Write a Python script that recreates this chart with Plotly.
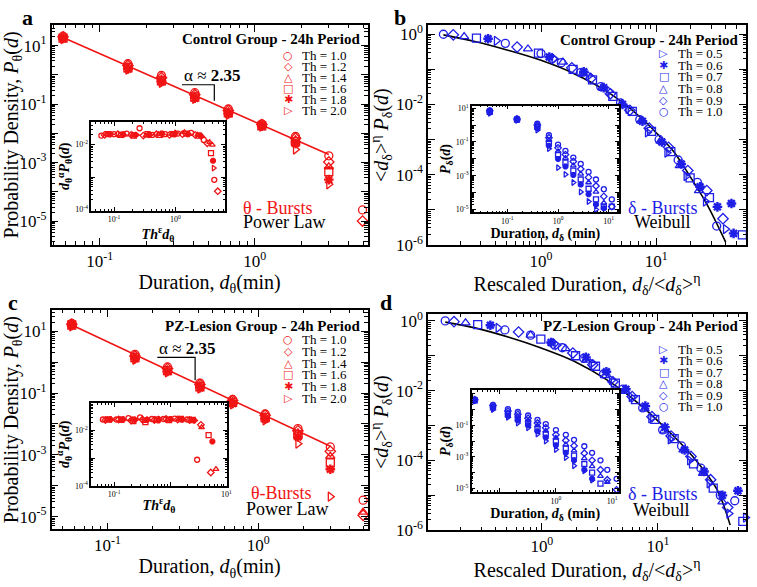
import plotly.graph_objects as go

W, H = 757, 587
FONT = "Liberation Serif, Times New Roman, serif"
RED = "#f01414"
BLUE = "#1e1ee6"

# ---------------- data ----------------
# panel a / c : theta bursts, probability density vs duration (min)
theta_bins = [0.058, 0.152, 0.25, 0.41, 0.675, 1.11, 1.83, 3.0, 4.95]
theta_labels = ["1.0", "1.2", "1.4", "1.6", "1.8", "2.0"]

a_th10 = [21, 2.4, 0.95, 0.245, 0.068, 0.021, 0.0078, 0.0017, 2.4e-5]
a_th12 = [20, 2.1, 0.8, 0.21, 0.06, 0.02, 0.0068, 0.00105, 1.0e-5]
a_th14 = [19, 1.9, 0.7, 0.19, 0.055, 0.019, 0.006, 0.00072, None]
a_th16 = [18, 1.75, 0.63, 0.175, 0.05, 0.018, 0.0052, 0.00049, None]
a_th18 = [17.5, 1.6, 0.58, 0.16, 0.047, 0.0175, 0.0045, 0.00026, None]
a_th20 = [16.7, 1.5, 0.53, 0.15, 0.043, 0.017, 0.0028, 0.00018, None]
a_fit_x = [0.058, 3.0]
a_fit_y = [19, 0.0019]
a_bracket_x = [0.339, 0.548, 0.548]
a_bracket_y = [0.46, 0.46, 0.13]

c_th10 = [18, 1.8, 0.7, 0.21, 0.062, 0.021, 0.0071, 0.0018, 3.4e-5]
c_th12 = [17, 1.6, 0.62, 0.19, 0.057, 0.019, 0.006, 0.0013, 1.1e-5]
c_th14 = [16.5, 1.5, 0.57, 0.175, 0.053, 0.017, 0.0052, 0.0009, 1.4e-5]
c_th16 = [16, 1.4, 0.53, 0.16, 0.05, 0.016, 0.0045, 0.00055, None]
c_th18 = [15.5, 1.3, 0.5, 0.15, 0.046, 0.0145, 0.0038, 0.00034, None]
c_th20 = [14.5, 1.2, 0.47, 0.14, 0.043, 0.013, 0.0023, 4.4e-5, None]
c_fit_x = [0.058, 3.0]
c_fit_y = [16, 0.0019]
c_bracket_x = [0.214, 0.381, 0.381]
c_bracket_y = [1.44, 1.44, 0.26]

# insets a / c : Th^eps d  vs  d^alpha P(d)
ia_th10_x = [0.062, 0.1, 0.16, 0.26, 0.42, 0.68, 1.1, 1.8, 2.9, 4.3]
ia_th10_y = [0.019, 0.021, 0.022, 0.032, 0.02, 0.021, 0.022, 0.023, 0.014, 8.3e-4]
ia_th12_x = [0.07, 0.115, 0.19, 0.3, 0.49, 0.8, 1.3, 2.1, 3.3, 4.9]
ia_th12_y = [0.02, 0.021, 0.02, 0.019, 0.021, 0.02, 0.021, 0.02, 0.011, 3.7e-4]
ia_th14_x = [0.075, 0.125, 0.2, 0.33, 0.53, 0.86, 1.4, 2.3, 3.6, 4.0]
ia_th14_y = [0.021, 0.02, 0.02, 0.019, 0.021, 0.021, 0.024, 0.02, 0.012, 0.0098]
ia_th16_x = [0.08, 0.13, 0.21, 0.35, 0.56, 0.92, 1.5, 2.4, 3.8]
ia_th16_y = [0.021, 0.02, 0.019, 0.021, 0.02, 0.021, 0.022, 0.019, 0.0055]
ia_th18_x = [0.085, 0.14, 0.22, 0.37, 0.6, 0.97, 1.6, 2.55, 4.1]
ia_th18_y = [0.021, 0.021, 0.02, 0.02, 0.022, 0.021, 0.021, 0.019, 0.0032]
ia_th20_x = [0.09, 0.145, 0.235, 0.39, 0.62, 1.02, 1.65, 2.7, 4.2]
ia_th20_y = [0.021, 0.02, 0.02, 0.02, 0.021, 0.023, 0.021, 0.018, 0.0019]

ic_th10_x = [0.063, 0.11, 0.18, 0.29, 0.47, 0.76, 1.2, 2.0, 3.0]
ic_th10_y = [0.025, 0.025, 0.028, 0.03, 0.026, 0.026, 0.027, 0.025, 8.7e-4]
ic_th12_x = [0.07, 0.12, 0.2, 0.32, 0.52, 0.84, 1.35, 2.2, 3.5, 5.25]
ic_th12_y = [0.024, 0.025, 0.023, 0.025, 0.024, 0.026, 0.025, 0.024, 0.016, 3e-4]
ic_th14_x = [0.075, 0.13, 0.21, 0.34, 0.55, 0.9, 1.45, 2.35, 3.6, 6.5]
ic_th14_y = [0.025, 0.024, 0.025, 0.022, 0.024, 0.025, 0.026, 0.025, 0.013, 4e-4]
ic_th16_x = [0.08, 0.135, 0.22, 0.36, 0.58, 0.95, 1.55, 2.5, 4.8]
ic_th16_y = [0.025, 0.025, 0.022, 0.02, 0.025, 0.024, 0.026, 0.024, 6.8e-3]
ic_th18_x = [0.085, 0.14, 0.23, 0.38, 0.61, 1.0, 1.6, 2.6, 5.6]
ic_th18_y = [0.025, 0.024, 0.025, 0.024, 0.023, 0.026, 0.025, 0.024, 4e-3]
ic_th20_x = [0.09, 0.15, 0.24, 0.4, 0.64, 1.05, 1.7, 2.75]
ic_th20_y = [0.025, 0.025, 0.024, 0.025, 0.026, 0.025, 0.025, 0.023]

# panel b / d : delta bursts, rescaled distributions + Weibull
delta_labels = ["0.5", "0.6", "0.7", "0.8", "0.9", "1.0"]

b_th05_x = [0.41, 1.3, 2.6, 3.9, 5.7, 8.4, 12.4, 18.2, 26.8, 40]
b_th05_y = [0.65, 0.2, 0.065, 0.024, 0.0075, 0.0016, 4.2e-4, 9e-5, 1.7e-5, 2.8e-6]
b_th06_x = [0.347, 1.18, 2.35, 3.5, 5.1, 7.6, 11.2, 16.5, 24, 34, 45, 47]
b_th06_y = [0.74, 0.225, 0.085, 0.03, 0.01, 0.0033, 8.5e-4, 2.0e-4, 4.5e-5, 1.2e-5, 1.5e-5, 2.1e-6]
b_th07_x = [0.275, 0.95, 1.9, 2.8, 4.2, 6.2, 9.1, 13.4, 19.7, 29, 56]
b_th07_y = [0.77, 0.29, 0.1, 0.05, 0.017, 0.0063, 0.0017, 4.5e-4, 8e-5, 2.2e-5, 1.9e-6]
b_th08_x = [0.215, 0.77, 1.55, 2.3, 3.4, 5.0, 7.4, 10.9, 16, 23.5]
b_th08_y = [0.86, 0.38, 0.16, 0.075, 0.03, 0.0105, 0.0034, 9e-4, 1.8e-4, 3.5e-5]
b_th09_x = [0.173, 0.62, 1.25, 1.85, 2.7, 4.0, 5.9, 8.7, 12.8, 18.8, 27.5, 38]
b_th09_y = [0.96, 0.43, 0.2, 0.11, 0.055, 0.02, 0.0068, 0.0021, 6e-4, 1.3e-4, 3.5e-5, 5.5e-6]
b_th10_x = [0.142, 0.49, 1.0, 1.5, 2.2, 3.3, 4.9, 7.2, 10.6, 15.5, 22.8, 33.5]
b_th10_y = [1.0, 0.55, 0.28, 0.155, 0.08, 0.032, 0.011, 0.0037, 1.0e-3, 2.6e-4, 6e-5, 3.4e-6]
b_weibull_x = [0.142, 0.266, 0.515, 1.0, 1.94, 3.75, 7.3, 10.1, 14.1, 19.6, 27.3, 40]
b_weibull_y = [0.96, 0.62, 0.35, 0.18, 0.075, 0.023, 0.0043, 0.0015, 4.6e-4, 9e-5, 1.5e-5, 1.2e-6]

d_th05_x = [0.42, 1.35, 2.7, 4.0, 5.9, 8.7, 12.8, 18.8, 27.7, 41, 57]
d_th05_y = [0.63, 0.2, 0.06, 0.02, 0.0065, 0.0016, 4e-4, 1e-4, 2.2e-5, 3e-6, 2.3e-6]
d_th06_x = [0.36, 1.2, 2.4, 3.6, 5.3, 7.8, 11.5, 17, 25, 36, 49]
d_th06_y = [0.75, 0.24, 0.09, 0.035, 0.011, 0.0036, 9e-4, 2e-4, 4.8e-5, 1e-5, 1.35e-5]
d_th07_x = [0.28, 0.98, 1.95, 2.9, 4.3, 6.4, 9.4, 13.8, 20.3, 30, 54]
d_th07_y = [0.78, 0.3, 0.1, 0.05, 0.0165, 0.0055, 0.0015, 4.2e-4, 8e-5, 1.6e-5, 1.8e-6]
d_th08_x = [0.22, 0.8, 1.6, 2.4, 3.5, 5.2, 7.7, 11.3, 16.6, 24.5, 36]
d_th08_y = [0.88, 0.39, 0.16, 0.075, 0.027, 0.0095, 0.003, 7e-4, 2e-4, 4.3e-5, 6.5e-6]
d_th09_x = [0.175, 0.63, 1.25, 1.85, 2.75, 4.1, 6.0, 8.9, 13, 19.3, 28.5, 40]
d_th09_y = [0.95, 0.48, 0.22, 0.12, 0.055, 0.018, 0.0068, 0.0018, 5e-4, 1.3e-4, 2.8e-5, 4.5e-6]
d_th10_x = [0.147, 0.48, 0.8, 1.5, 2.3, 3.4, 5.0, 7.4, 11, 16, 23.5, 34.5, 46]
d_th10_y = [1.0, 0.55, 0.39, 0.17, 0.085, 0.03, 0.011, 0.0032, 7.5e-4, 2.6e-4, 6e-5, 1e-5, 7e-6]
d_weibull_x = [0.147, 0.27, 0.52, 1.0, 1.9, 3.67, 7.0, 13.5, 20, 26, 33, 42]
d_weibull_y = [0.92, 0.62, 0.34, 0.165, 0.07, 0.02, 0.004, 5.2e-4, 1.3e-4, 4.3e-5, 1.3e-5, 1.4e-6]

# insets b / d : raw P(d) vs duration (min)
ib_grid = [0.045, 0.155, 0.39, 0.66, 1.0, 1.4, 2.0, 2.8, 4.0, 5.6, 8.0, 11.5]
ib_th05 = [5, 1.9, 0.5, 0.04, 0.003, 0.0012, 4e-4, 1.1e-4, 3e-5, 1e-5]
ib_th06 = [5.5, 2.0, 0.65, 0.06, 0.01, 0.0035, 0.0011, 3e-4, 8e-5, 2e-5, 1.2e-5]
ib_th07 = [6, 2.1, 0.8, 0.09, 0.018, 0.006, 0.002, 6e-4, 1.7e-4, 4e-5, 1.5e-5, 1.5e-5]
ib_th08 = [6.5, 2.2, 0.9, 0.13, 0.028, 0.011, 0.004, 0.0013, 4e-4, 1.1e-4, 2.5e-5]
ib_th09 = [7, 2.3, 1.0, 0.18, 0.045, 0.018, 0.007, 0.0025, 8e-4, 2.5e-4, 6e-5, 1.5e-5]
ib_th10 = [7.5, 2.4, 1.2, 0.25, 0.07, 0.03, 0.012, 0.005, 0.0017, 6e-4, 1.6e-4, 4e-5]

id_grid = [0.036, 0.076, 0.14, 0.21, 0.32, 0.47, 0.66, 1.0, 1.5, 2.1, 3.2, 4.4, 6.2, 8.2, 12]
id_th05 = [3.4, 1.0, 0.32, 0.14, 0.07, 0.028, 0.01, 0.0029, 9e-4, 2.7e-4, 1.3e-4, 3.3e-5]
id_th06 = [3.6, 1.2, 0.4, 0.2, 0.1, 0.042, 0.017, 0.0055, 0.0018, 6e-4, 1.5e-4, 4e-5]
id_th07 = [3.8, 1.4, 0.5, 0.28, 0.14, 0.06, 0.028, 0.0095, 0.0033, 0.0012, 3.5e-4, 1e-4, 2e-5]
id_th08 = [4.0, 1.6, 0.65, 0.38, 0.2, 0.095, 0.045, 0.016, 0.006, 0.0025, 8e-4, 2.5e-4, 6e-5, 2.5e-5]
id_th09 = [4.2, 1.8, 0.8, 0.5, 0.28, 0.14, 0.07, 0.025, 0.011, 0.005, 0.0017, 6e-4, 1.5e-4, 3.5e-5, 8e-6]
id_th10 = [4.4, 2.0, 1.07, 0.7, 0.42, 0.22, 0.12, 0.05, 0.025, 0.012, 0.0047, 0.0018, 6e-4, 1.5e-4, 4e-5]

# ---------------- styling ----------------
theta_symbols = ["circle-open", "diamond-open", "triangle-up-open",
                 "square-open", "asterisk-open", "triangle-right-open"]
theta_glyphs = ["○", "◇", "△", "□", "✱", "▷"]
delta_symbols = ["triangle-right-open", "asterisk-open", "square-open",
                 "triangle-up-open", "diamond-open", "circle-open"]
delta_glyphs = ["▷", "✱", "□", "△", "◇", "○"]


def px_x(px):
    return px / W


def px_y(py):
    return 1 - py / H


def sup(e):
    return f"10<sup>{e}</sup>"


def minor_vals(lo, hi):
    return [m * 10.0 ** k for k in range(lo, hi) for m in range(2, 10)]


def log_axis(domain, anchor, rng, majors, labels, tsize, mlen, title, title_size, standoff=2):
    lo, hi = int(rng[0]) - 1, int(rng[1]) + 1
    return dict(
        type="log", domain=domain, anchor=anchor, range=rng,
        tickmode="array", tickvals=[10.0 ** e for e in majors], ticktext=labels,
        ticks="inside", ticklen=mlen, tickwidth=1, tickcolor="black",
        minor=dict(tickmode="array", tickvals=minor_vals(lo, hi), ticks="inside",
                   ticklen=mlen * 0.5, tickwidth=1, tickcolor="black", showgrid=False),
        showline=True, linecolor="black", linewidth=1.5, mirror="ticks",
        showgrid=False, zeroline=False,
        tickfont=dict(family=FONT, size=tsize, color="black"),
        title=dict(text=title, font=dict(family=FONT, size=title_size, color="black"),
                   standoff=standoff),
    )


def dom_x(l, r):
    return [px_x(l), px_x(r)]


def dom_y(t, b):
    return [px_y(b), px_y(t)]


fig = go.Figure()


def add_series(xs, ys, symbol, color, xa, ya, size):
    wide = "asterisk" in symbol
    fig.add_trace(go.Scatter(
        x=xs, y=ys, mode="markers", xaxis=xa, yaxis=ya, cliponaxis=False,
        marker=dict(symbol=symbol, size=size, color=color,
                    line=dict(color=color, width=2.4 if wide else 1.3)),
        hoverinfo="x+y", showlegend=False,
    ))


def add_line(xs, ys, color, xa, ya, width=1.6, shape="linear"):
    fig.add_trace(go.Scatter(
        x=xs, y=ys, mode="lines", xaxis=xa, yaxis=ya,
        line=dict(color=color, width=width, shape=shape, smoothing=1.0),
        hoverinfo="skip", showlegend=False,
    ))


# panel a
add_line(a_fit_x, a_fit_y, RED, "x", "y")
add_line(a_bracket_x, a_bracket_y, "black", "x", "y", width=1.2)
for ys, sym in zip([a_th10, a_th12, a_th14, a_th16, a_th18, a_th20], theta_symbols):
    add_series(theta_bins, ys, sym, RED, "x", "y", 8)
for xs, ys, sym in zip([ia_th10_x, ia_th12_x, ia_th14_x, ia_th16_x, ia_th18_x, ia_th20_x],
                       [ia_th10_y, ia_th12_y, ia_th14_y, ia_th16_y, ia_th18_y, ia_th20_y],
                       theta_symbols):
    add_series(xs, ys, sym, RED, "x2", "y2", 5)

# panel b
add_line(b_weibull_x, b_weibull_y, "black", "x3", "y3", shape="spline")
for xs, ys, sym in zip([b_th05_x, b_th06_x, b_th07_x, b_th08_x, b_th09_x, b_th10_x],
                       [b_th05_y, b_th06_y, b_th07_y, b_th08_y, b_th09_y, b_th10_y],
                       delta_symbols):
    add_series(xs, ys, sym, BLUE, "x3", "y3", 8)
for ys, sym in zip([ib_th05, ib_th06, ib_th07, ib_th08, ib_th09, ib_th10], delta_symbols):
    add_series(ib_grid[:len(ys)], ys, sym, BLUE, "x4", "y4", 5)

# panel c
add_line(c_fit_x, c_fit_y, RED, "x5", "y5")
add_line(c_bracket_x, c_bracket_y, "black", "x5", "y5", width=1.2)
for ys, sym in zip([c_th10, c_th12, c_th14, c_th16, c_th18, c_th20], theta_symbols):
    add_series(theta_bins, ys, sym, RED, "x5", "y5", 8)
for xs, ys, sym in zip([ic_th10_x, ic_th12_x, ic_th14_x, ic_th16_x, ic_th18_x, ic_th20_x],
                       [ic_th10_y, ic_th12_y, ic_th14_y, ic_th16_y, ic_th18_y, ic_th20_y],
                       theta_symbols):
    add_series(xs, ys, sym, RED, "x6", "y6", 5)

# panel d
add_line(d_weibull_x, d_weibull_y, "black", "x7", "y7", shape="spline")
for xs, ys, sym in zip([d_th05_x, d_th06_x, d_th07_x, d_th08_x, d_th09_x, d_th10_x],
                       [d_th05_y, d_th06_y, d_th07_y, d_th08_y, d_th09_y, d_th10_y],
                       delta_symbols):
    add_series(xs, ys, sym, BLUE, "x7", "y7", 8)
for ys, sym in zip([id_th05, id_th06, id_th07, id_th08, id_th09, id_th10], delta_symbols):
    add_series(id_grid[:len(ys)], ys, sym, BLUE, "x8", "y8", 5)

# ---------------- axes ----------------
p_theta = "Probability Density, <i>P</i><sub>θ</sub>(<i>d</i>)"
d_theta = "Duration, <i>d</i><sub>θ</sub>(min)"
p_delta = "&lt;<i>d</i><sub>δ</sub>&gt;<sup>η</sup> <i>P</i><sub>δ</sub>(<i>d</i>)"
d_delta = "Rescaled Duration, <i>d</i><sub>δ</sub>/&lt;<i>d</i><sub>δ</sub>&gt;<sup>η</sup>"
ins_y_theta = "<b><i>d</i><sub>θ</sub><sup>α</sup><i>P</i><sub>θ</sub>(<i>d</i>)</b>"
ins_x_theta = "<b><i>Th</i><sup>ε</sup><i>d</i><sub>θ</sub></b>"
ins_y_delta = "<b><i>P</i><sub>δ</sub>(<i>d</i>)</b>"
ins_x_delta = "<b>Duration, <i>d</i><sub>δ</sub> (min)</b>"

theta_y_major = [-5, -4, -3, -2, -1, 0, 1]
theta_y_text = [sup(-5), "", sup(-3), "", sup(-1), "", sup(1)]
delta_y_major = [-6, -5, -4, -3, -2, -1, 0]
delta_y_text = [sup(-6), "", sup(-4), "", sup(-2), "", sup(0)]

layout_axes = dict(
    xaxis=log_axis(dom_x(52, 370), "y", [-1.31, 0.727], [-1, 0], [sup(-1), sup(0)], 17, 7, d_theta, 20, 0),
    yaxis=log_axis(dom_y(20.7, 246), "x", [-5.81, 1.7], theta_y_major, theta_y_text, 17, 7, p_theta, 20),
    xaxis2=log_axis(dom_x(92, 226), "y2", [-1.37, 0.8], [-1, 0], [sup(-1), sup(0)], 8, 4, ins_x_theta, 14),
    yaxis2=log_axis(dom_y(120, 211), "x2", [-4.03, -1.3], [-4, -3, -2], [sup(-4), "", sup(-2)], 8, 4, ins_y_theta, 14),
    xaxis3=log_axis(dom_x(431, 751), "y3", [-0.98, 1.78], [0, 1], [sup(0), sup(1)], 17, 7, d_delta, 20, 0),
    yaxis3=log_axis(dom_y(21, 246), "x3", [-6, 0.25], delta_y_major, delta_y_text, 17, 7, p_delta, 20),
    xaxis4=log_axis(dom_x(475, 623), "y4", [-1.7, 1.2], [-1, 0, 1], [sup(-1), sup(0), sup(1)], 8, 4, ins_x_delta, 14),
    yaxis4=log_axis(dom_y(103.3, 212.7), "x4", [-5.16, 1.15], [-5, -4, -3, -2, -1, 0, 1],
                    [sup(-5), "", sup(-3), "", sup(-1), "", sup(1)], 8, 4, ins_y_delta, 14),
    xaxis5=log_axis(dom_x(52, 370), "y5", [-1.37, 0.724], [-1, 0], [sup(-1), sup(0)], 17, 7, d_theta, 20, 0),
    yaxis5=log_axis(dom_y(313, 538), "x5", [-5.41, 1.69], theta_y_major, theta_y_text, 17, 7, p_theta, 20),
    xaxis6=log_axis(dom_x(91.7, 228.3), "y6", [-1.41, 1.005], [-1, 0, 1], [sup(-1), "", sup(1)], 8, 4, ins_x_theta, 14),
    yaxis6=log_axis(dom_y(408.3, 493.3), "x6", [-4.0, -1.0], [-4, -3, -2], [sup(-4), "", sup(-2)], 8, 4, ins_y_theta, 14),
    xaxis7=log_axis(dom_x(431, 751), "y7", [-0.98, 1.76], [0, 1], [sup(0), sup(1)], 17, 7, d_delta, 20, 0),
    yaxis7=log_axis(dom_y(317, 539), "x7", [-6, 0.2], delta_y_major, delta_y_text, 17, 7, p_delta, 20),
    xaxis8=log_axis(dom_x(474.7, 623), "y8", [-1.5, 1.12], [-1, 0, 1], ["", sup(0), sup(1)], 8, 4, ins_x_delta, 14),
    yaxis8=log_axis(dom_y(395, 500), "x8", [-5.25, 1.25], [-5, -4, -3, -2, -1, 0, 1],
                    [sup(-5), "", sup(-3), "", sup(-1), "", ""], 8, 4, ins_y_delta, 14),
)

# ---------------- text ----------------
ann = []


def text(px, py, s, size, color="black", xanchor="left"):
    ann.append(dict(x=px_x(px), y=px_y(py), xref="paper", yref="paper", text=s,
                    showarrow=False, xanchor=xanchor, yanchor="middle",
                    font=dict(family=FONT, size=size, color=color)))


for letter, (lx, ly) in zip("abcd", [(28, 13), (403, 13), (13, 305), (389, 305)]):
    text(lx, ly, f"<b>{letter}</b>", 22, xanchor="center")

text(364, 35, "<b>Control Group - 24h Period</b>", 15, xanchor="right")
text(745, 36, "<b>Control Group - 24h Period</b>", 15, xanchor="right")
text(364, 329, "<b>PZ-Lesion Group - 24h Period</b>", 15, xanchor="right")
text(745, 329, "<b>PZ-Lesion Group - 24h Period</b>", 15, xanchor="right")

# legends: glyph + label rows
legend_rows = [
    (290, 302, 52, 11.3, theta_glyphs, theta_labels, RED),
    (668, 680, 50, 11.9, delta_glyphs, delta_labels, BLUE),
    (290, 302, 343.5, 12.0, theta_glyphs, theta_labels, RED),
    (668, 680, 353.5, 11.7, delta_glyphs, delta_labels, BLUE),
]
for gx, tx, y0, step, glyphs, labels, col in legend_rows:
    for i, (g, lab) in enumerate(zip(glyphs, labels)):
        yy = y0 + i * step
        ann.append(dict(x=px_x(gx), y=px_y(yy), xref="paper", yref="paper", text=f"<b>{g}</b>",
                        showarrow=False, xanchor="center", yanchor="middle",
                        font=dict(family="DejaVu Sans", size=11, color=col)))
        text(tx, yy, f"Th = {lab}", 13)

text(243, 208, "θ - Bursts", 18, RED)
text(243, 223, "Power Law", 18)
text(251, 501, "θ-Bursts", 18, RED)
text(246, 517, "Power Law", 18)
text(630, 208, "δ - Bursts", 18, BLUE)
text(636, 223, "Weibull", 18)
text(630, 502, "δ - Bursts", 18, BLUE)
text(635, 518, "Weibull", 18)

text(183, 72, "α ≈ <b>2.35</b>", 17)
text(158, 353, "α ≈ <b>2.35</b>", 17)

fig.update_layout(
    width=W, height=H,
    margin=dict(l=0, r=0, t=0, b=0),
    paper_bgcolor="white", plot_bgcolor="white",
    showlegend=False,
    annotations=ann,
    **layout_axes,
)

# drop the page's default body margin so the figure sits at the window's corner
fig.write_html("out.html", config={"displayModeBar": False},
               post_script="document.body.style.margin='0px';")
